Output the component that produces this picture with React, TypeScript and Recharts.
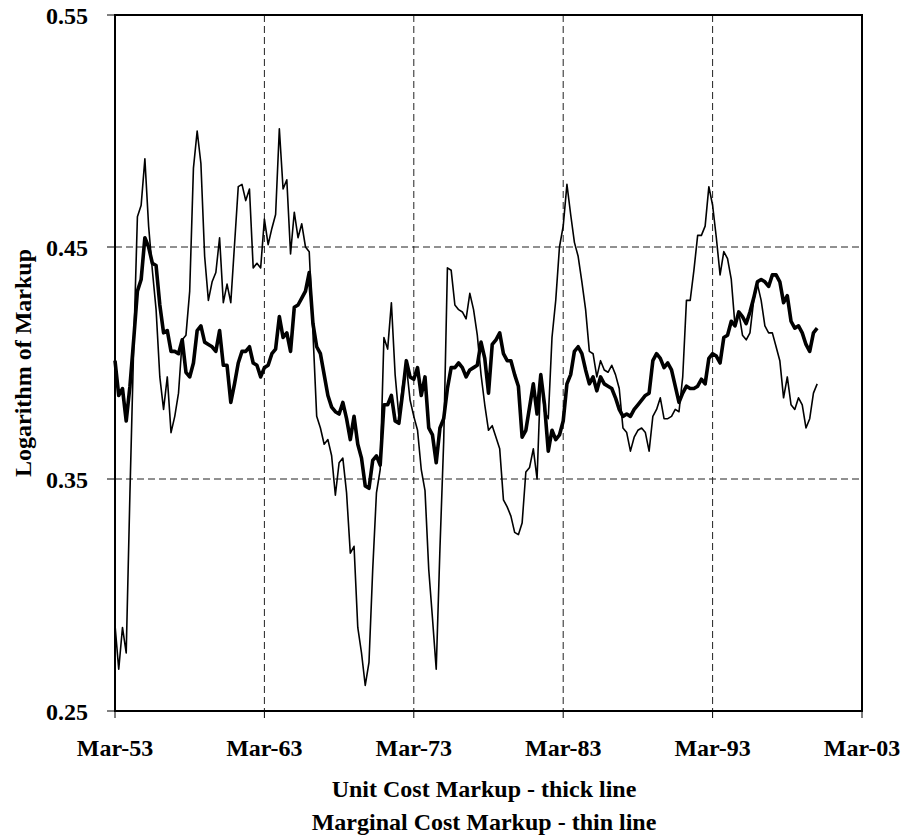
import React from 'react';
import {
  LineChart,
  Line,
  XAxis,
  YAxis,
  CartesianGrid,
  ReferenceArea
} from 'recharts';

// Quarterly observations, Mar-53 .. Mar-00 (index 0 = Mar-53)
const unitCostMarkup = [
  0.401, 0.386, 0.389, 0.375, 0.390, 0.410, 0.431, 0.436, 0.454, 0.450,
  0.443, 0.442, 0.425, 0.413, 0.414, 0.405, 0.405, 0.404, 0.410, 0.396,
  0.394, 0.400, 0.414, 0.416, 0.409, 0.408, 0.407, 0.405, 0.414, 0.399,
  0.399, 0.383, 0.391, 0.400, 0.405, 0.405, 0.407, 0.400, 0.399, 0.394,
  0.398, 0.399, 0.404, 0.406, 0.420, 0.411, 0.413, 0.405, 0.424, 0.425,
  0.428, 0.431, 0.439, 0.417, 0.407, 0.404, 0.395, 0.386, 0.381, 0.379,
  0.378, 0.383, 0.376, 0.367, 0.377, 0.365, 0.359, 0.347, 0.346, 0.358,
  0.360, 0.356, 0.382, 0.382, 0.386, 0.375, 0.374, 0.387, 0.401, 0.394,
  0.393, 0.398, 0.386, 0.394, 0.372, 0.369, 0.357, 0.372, 0.376, 0.389,
  0.398, 0.398, 0.400, 0.398, 0.394, 0.397, 0.398, 0.399, 0.409, 0.402,
  0.387, 0.408, 0.410, 0.413, 0.404, 0.401, 0.401, 0.395, 0.390, 0.368,
  0.371, 0.381, 0.391, 0.378, 0.395, 0.382, 0.362, 0.371, 0.367, 0.369,
  0.375, 0.391, 0.395, 0.405, 0.407, 0.404, 0.397, 0.391, 0.394, 0.388,
  0.394, 0.391, 0.390, 0.389, 0.385, 0.380, 0.377, 0.378, 0.377, 0.380,
  0.382, 0.384, 0.386, 0.387, 0.401, 0.404, 0.402, 0.398, 0.400, 0.397,
  0.390, 0.383, 0.387, 0.390, 0.389, 0.389, 0.390, 0.393, 0.391, 0.402,
  0.404, 0.403, 0.400, 0.411, 0.412, 0.418, 0.416, 0.422, 0.420, 0.417,
  0.422, 0.428, 0.435, 0.436, 0.435, 0.433, 0.438, 0.438, 0.435, 0.426,
  0.429, 0.418, 0.415, 0.416, 0.413, 0.408, 0.405, 0.413, 0.415
];

const marginalCostMarkup = [
  0.287, 0.268, 0.286, 0.275, 0.344, 0.407, 0.463, 0.468, 0.488, 0.459,
  0.440, 0.423, 0.394, 0.380, 0.394, 0.370, 0.377, 0.387, 0.410, 0.412,
  0.431, 0.484, 0.500, 0.486, 0.446, 0.427, 0.435, 0.439, 0.454, 0.426,
  0.434, 0.426, 0.451, 0.476, 0.477, 0.470, 0.475, 0.441, 0.443, 0.441,
  0.462, 0.451, 0.458, 0.464, 0.501, 0.475, 0.479, 0.447, 0.465, 0.454,
  0.460, 0.450, 0.448, 0.413, 0.377, 0.372, 0.365, 0.367, 0.360, 0.343,
  0.357, 0.359, 0.344, 0.318, 0.321, 0.286, 0.275, 0.261, 0.271, 0.311,
  0.344, 0.354, 0.411, 0.406, 0.426, 0.395, 0.377, 0.390, 0.399, 0.384,
  0.377, 0.371, 0.354, 0.345, 0.311, 0.290, 0.268, 0.320, 0.366, 0.441,
  0.440, 0.425, 0.423, 0.422, 0.419, 0.430, 0.423, 0.412, 0.395, 0.382,
  0.371, 0.373, 0.368, 0.363, 0.341, 0.338, 0.334, 0.327, 0.326, 0.331,
  0.353, 0.355, 0.363, 0.350, 0.395, 0.379, 0.376, 0.411, 0.427, 0.450,
  0.459, 0.477, 0.464, 0.452, 0.446, 0.435, 0.423, 0.405, 0.404, 0.394,
  0.401, 0.397, 0.396, 0.399, 0.395, 0.389, 0.372, 0.370, 0.362, 0.368,
  0.371, 0.372, 0.370, 0.362, 0.377, 0.380, 0.385, 0.376, 0.376, 0.377,
  0.380, 0.379, 0.394, 0.427, 0.427, 0.440, 0.455, 0.455, 0.459, 0.476,
  0.468, 0.454, 0.438, 0.448, 0.445, 0.436, 0.416, 0.422, 0.412, 0.410,
  0.413, 0.427, 0.434, 0.427, 0.416, 0.413, 0.413, 0.407, 0.401, 0.385,
  0.394, 0.382, 0.380, 0.385, 0.382, 0.372, 0.376, 0.387, 0.391
];

const xTickQuarters = [0, 40, 80, 120, 160, 200];
const xTickLabels = ['Mar-53', 'Mar-63', 'Mar-73', 'Mar-83', 'Mar-93', 'Mar-03'];
const yTicks = [0.25, 0.35, 0.45, 0.55];

const data = unitCostMarkup.map((v, i) => ({
  q: i,
  unit: v,
  marginal: marginalCostMarkup[i]
}));

const FONT = "'Liberation Serif', 'Times New Roman', Times, serif";
const tickStyle = { fontSize: 24, fontWeight: 700, fill: '#000', fontFamily: FONT };

const XTitle = () => (
  <text textAnchor="middle" fontFamily={FONT} fontWeight={700} fontSize={24} fill="#000">
    <tspan x={484} y={797}>Unit Cost Markup - thick line</tspan>
    <tspan x={484} y={830}>Marginal Cost Markup - thin line</tspan>
  </text>
);

const YTitle = () => (
  <text
    x={23}
    y={363}
    transform="rotate(-90 23 363)"
    textAnchor="middle"
    dominantBaseline="central"
    fontFamily={FONT}
    fontWeight={700}
    fontSize={24}
    fill="#000"
  >
    Logarithm of Markup
  </text>
);

export default function App() {
  return (
    <div style={{ position: 'absolute', left: 0, top: 0 }}>
      <LineChart
        width={908}
        height={839}
        data={data}
        margin={{ top: 15, right: 46, left: 0, bottom: 0 }}
      >
        <CartesianGrid stroke="#222" strokeDasharray="7 4" strokeWidth={1} />
        <XAxis
          dataKey="q"
          type="number"
          domain={[0, 200]}
          ticks={xTickQuarters}
          interval={0}
          tickFormatter={(v: number) => xTickLabels[xTickQuarters.indexOf(v)]}
          height={128}
          tick={tickStyle}
          tickSize={7}
          tickMargin={21}
          axisLine={{ stroke: '#000', strokeWidth: 2 }}
          tickLine={{ stroke: '#000', strokeWidth: 1 }}
          label={{ content: () => <XTitle /> }}
        />
        <YAxis
          type="number"
          domain={[0.25, 0.55]}
          ticks={yTicks}
          interval={0}
          tickFormatter={(v: number) => v.toFixed(2)}
          width={115}
          tick={tickStyle}
          tickSize={8}
          tickMargin={19}
          axisLine={{ stroke: '#000', strokeWidth: 2 }}
          tickLine={{ stroke: '#000', strokeWidth: 1 }}
          label={{ content: () => <YTitle /> }}
        />
        <ReferenceArea
          x1={0}
          x2={200}
          y1={0.25}
          y2={0.55}
          fill="none"
          stroke="#000"
          strokeWidth={2}
        />
        <Line
          dataKey="marginal"
          type="linear"
          stroke="#000"
          strokeWidth={1.6}
          dot={false}
          isAnimationActive={false}
          strokeLinejoin="round"
        />
        <Line
          dataKey="unit"
          type="linear"
          stroke="#000"
          strokeWidth={3.6}
          dot={false}
          isAnimationActive={false}
          strokeLinejoin="round"
        />
      </LineChart>
    </div>
  );
}
